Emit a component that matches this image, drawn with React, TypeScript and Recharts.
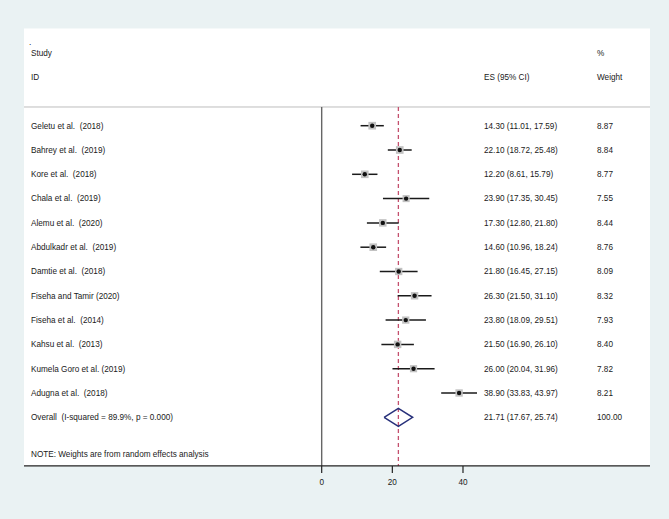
import React from "react"
import {
  ScatterChart,
  Scatter,
  XAxis,
  YAxis,
  CartesianGrid,
  ReferenceLine,
} from "recharts"

// study rows, top to bottom
const studyNames = [
  "Geletu et al.  (2018)",
  "Bahrey et al.  (2019)",
  "Kore et al.  (2018)",
  "Chala et al.  (2019)",
  "Alemu et al.  (2020)",
  "Abdulkadr et al.  (2019)",
  "Damtie et al.  (2018)",
  "Fiseha and Tamir (2020)",
  "Fiseha et al.  (2014)",
  "Kahsu et al.  (2013)",
  "Kumela Goro et al. (2019)",
  "Adugna et al.  (2018)",
]
const esValues = [14.3, 22.1, 12.2, 23.9, 17.3, 14.6, 21.8, 26.3, 23.8, 21.5, 26.0, 38.9]
const ciLow = [11.01, 18.72, 8.61, 17.35, 12.8, 10.96, 16.45, 21.5, 18.09, 16.9, 20.04, 33.83]
const ciHigh = [17.59, 25.48, 15.79, 30.45, 21.8, 18.24, 27.15, 31.1, 29.51, 26.1, 31.96, 43.97]
const weights = [8.87, 8.84, 8.77, 7.55, 8.44, 8.76, 8.09, 8.32, 7.93, 8.4, 7.82, 8.21]

const overallLabel = "Overall  (I-squared = 89.9%, p = 0.000)"
const overallEs = 21.71
const overallLow = 17.67
const overallHigh = 25.74
const overallWeight = 100

const headerTop = ["Study", "", "%"]
const headerBottom = ["ID", "ES (95% CI)", "Weight"]
const noteText = "NOTE: Weights are from random effects analysis"

const xTicks = [0, 20, 40]
const xDomain = [-84.27, 92.94]

// layout
const W = 669
const H = 519
const FONT = "'Liberation Sans', Arial, Helvetica, sans-serif"
const FS = 8.2
const TXT = "#1a1a1a"
const COL_NAME = 31
const COL_ES = 484
const COL_W = 597
const TOP_RULE = 0.23
const AXIS_ROW = 15
const OVERALL_ROW = 13
const DIAMOND_H = 0.37

const studyRows = studyNames.map((name, i) => ({
  x: esValues[i],
  y: i + 1,
  w: weights[i],
}))

const textRows = [
  { x: 0, y: -2, cols: headerTop },
  { x: 0, y: -1, cols: headerBottom },
  ...studyNames.map((name, i) => ({
    x: 0,
    y: i + 1,
    cols: [
      name,
      `${esValues[i].toFixed(2)} (${ciLow[i].toFixed(2)}, ${ciHigh[i].toFixed(2)})`,
      weights[i].toFixed(2),
    ],
  })),
  {
    x: 0,
    y: OVERALL_ROW,
    cols: [
      overallLabel,
      `${overallEs.toFixed(2)} (${overallLow.toFixed(2)}, ${overallHigh.toFixed(2)})`,
      overallWeight.toFixed(2),
    ],
  },
  { x: 0, y: 14.5, cols: [noteText, "", ""] },
]

const diamond = [
  { x: overallLow, y: OVERALL_ROW },
  { x: overallEs, y: OVERALL_ROW - DIAMOND_H },
  { x: overallHigh, y: OVERALL_ROW },
  { x: overallEs, y: OVERALL_ROW + DIAMOND_H },
  { x: overallLow, y: OVERALL_ROW },
]

function StudyMark(props: any) {
  const { cx, cy, payload } = props
  const s = 7.5 * Math.sqrt(payload.w / 8.5)
  return (
    <g>
      <rect x={cx - s / 2} y={cy - s / 2} width={s} height={s} fill="#c2c2c2" />
      <circle cx={cx} cy={cy} r={2.2} fill="#111" />
    </g>
  )
}

function RowText(props: any) {
  const { cy, payload } = props
  const xs = [COL_NAME, COL_ES, COL_W]
  return (
    <g>
      {payload.cols.map((c: string, i: number) =>
        c ? (
          <text
            key={i}
            x={xs[i]}
            y={cy}
            dy="0.35em"
            fontSize={FS}
            fontFamily={FONT}
            fill={TXT}
            style={{ whiteSpace: "pre" }}
          >
            {c}
          </text>
        ) : null
      )}
    </g>
  )
}

export default function App() {
  return (
    <div style={{ position: "absolute", left: 0, top: 0, width: W, height: H, background: "#eaf2f3" }}>
      <ScatterChart
        width={W}
        height={H}
        margin={{ top: 28.5, right: 19, bottom: 23.1, left: 24 }}
      >
        <CartesianGrid fill="#ffffff" fillOpacity={1} horizontal={false} vertical={false} stroke="none" />
        <XAxis
          type="number"
          dataKey="x"
          domain={xDomain}
          allowDataOverflow
          ticks={xTicks}
          height={30}
          tickSize={7}
          tickMargin={6}
          axisLine={{ stroke: "#222", strokeWidth: 1.2 }}
          tickLine={{ stroke: "#222", strokeWidth: 1.2 }}
          tick={{ fill: TXT, fontSize: FS, fontFamily: FONT }}
        />
        <YAxis type="number" dataKey="y" domain={[-3, AXIS_ROW]} reversed hide allowDataOverflow />
        <ReferenceLine
          segment={[{ x: xDomain[0], y: TOP_RULE }, { x: xDomain[1], y: TOP_RULE }]}
          stroke="#bdbdbd"
          strokeWidth={1}
        />
        <ReferenceLine
          segment={[{ x: 0, y: TOP_RULE }, { x: 0, y: AXIS_ROW }]}
          stroke="#666"
          strokeWidth={1.4}
        />
        <ReferenceLine
          segment={[{ x: overallEs, y: TOP_RULE }, { x: overallEs, y: AXIS_ROW }]}
          stroke="#c4506e"
          strokeWidth={1.3}
          strokeDasharray="4 3"
        />
        {studyNames.map((name, i) => (
          <ReferenceLine
            key={name}
            segment={[{ x: ciLow[i], y: i + 1 }, { x: ciHigh[i], y: i + 1 }]}
            stroke="#1a1a1a"
            strokeWidth={1.5}
          />
        ))}
        <Scatter data={studyRows} shape={(p: any) => <StudyMark {...p} />} isAnimationActive={false} />
        <Scatter
          data={diamond}
          line={{ stroke: "#27307a", strokeWidth: 1.5 }}
          shape={() => <g />}
          isAnimationActive={false}
        />
        <Scatter data={textRows} shape={(p: any) => <RowText {...p} />} isAnimationActive={false} />
        <ReferenceLine
          segment={[{ x: xDomain[0], y: -2.44 }, { x: xDomain[0], y: -2.44 }]}
          stroke="none"
          label={{ value: ".", position: "right", fontSize: FS, fill: TXT, fontFamily: FONT }}
        />
      </ScatterChart>
    </div>
  )
}
